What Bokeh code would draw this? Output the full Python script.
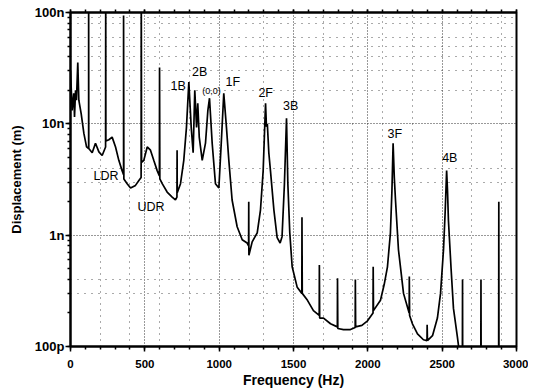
from bokeh.plotting import figure
from bokeh.models import (Range1d, LinearAxis, Grid, FixedTicker,
                          CustomJSTickFormatter, ColumnDataSource)
from bokeh.core.properties import value
from bokeh.embed import file_html
from bokeh.resources import INLINE

# ---------------- data ----------------
# spectrum: frequency (Hz) and displacement (nm); vertical spikes are repeated x values
freq_hz = [0, 11, 22, 27, 34, 40, 49, 56, 72, 90, 108,
           122, 122, 123, 146, 168, 191, 213, 236, 237, 238, 258, 280, 303, 325, 347,
           357, 357, 359, 381, 404, 437, 460, 475, 476, 478, 493, 516, 538, 560, 583,
           598, 599, 601, 617, 650, 684, 706, 716, 717, 718, 740, 762, 780, 796, 812,
           825, 836, 848, 856, 866, 886, 908, 924, 935, 953, 975, 998, 1014, 1031,
           1049, 1065, 1087, 1121, 1155, 1188, 1198, 1199, 1200, 1222, 1256, 1278,
           1296, 1312, 1318, 1324, 1334, 1345, 1368, 1390, 1410, 1423, 1439, 1453,
           1462, 1475, 1491, 1525, 1556, 1557, 1559, 1594, 1634, 1673, 1674, 1676,
           1702, 1749, 1795, 1796, 1798, 1836, 1883, 1915, 1916, 1918, 1960, 1998,
           2035, 2036, 2038, 2085, 2110, 2132, 2152, 2162, 2170, 2178, 2186, 2206,
           2240, 2278, 2279, 2281, 2300, 2334, 2374, 2398, 2399, 2401, 2435, 2468,
           2489, 2509, 2520, 2530, 2536, 2542, 2560, 2576, 2603, 2615, 2636, 2637,
           2638, 2760, 2761, 2762, 2880, 2881, 2882, 3000]
disp_nm = [30, 13.2, 18.8, 11.5, 20, 16.3, 35.6, 16.3, 12.3, 8.2, 6.2,
           6.0, 200, 6.0, 5.5, 6.7, 5.6, 5.2, 6.2, 200, 7.0, 7.2, 7.6, 6.2, 4.7, 3.8,
           3.5, 94, 3.2, 2.9, 2.65, 2.8, 3.1, 3.3, 200, 4.5, 4.7, 6.2, 5.8, 4.7, 3.8,
           3.4, 32, 3.2, 2.9, 2.44, 2.2, 2.07, 2.2, 5.8, 2.4, 2.9, 4.7, 9.3, 23.7, 9.3,
           5.5, 20, 9.3, 15.3, 7.6, 4.7, 6.7, 13.2, 17, 6.7, 2.9, 2.65, 6.7, 18.8,
           9.3, 4.7, 2.07, 1.19, 0.91, 0.85, 0.8, 2.0, 0.66, 0.87, 1.05, 1.69,
           3.8, 15.3, 9.4, 10.0, 5.5, 3.8, 1.69, 0.95, 0.85, 0.97, 2.9, 11.2,
           2.9, 1.05, 0.52, 0.34, 0.30, 1.45, 0.30, 0.26, 0.21, 0.19, 0.54, 0.18,
           0.18, 0.16, 0.15, 0.41, 0.145, 0.142, 0.142, 0.148, 0.40, 0.15, 0.155, 0.17,
           0.2, 0.52, 0.21, 0.26, 0.36, 0.52, 1.05, 2.5, 6.7, 3.3, 2.07, 0.74,
           0.30, 0.2, 0.425, 0.19, 0.16, 0.13, 0.115, 0.113, 0.157, 0.113, 0.125, 0.18,
           0.3, 0.74, 1.6, 3.8, 2.5, 1.37, 0.5, 0.22, 0.12, 0.09, 0.09, 0.40,
           0.09, 0.09, 0.40, 0.09, 0.09, 2.0, 0.09, 0.09]
assert len(freq_hz) == len(disp_nm)

# mode labels
mode_text = ["LDR", "UDR", "1B", "2B", "1F", "2F", "3B", "3F", "4B"]
mode_x = [155, 451, 673, 818, 1043, 1264, 1430, 2132, 2500]
mode_y = [3.4, 1.79, 22, 29, 24, 18.8, 14.4, 8.1, 4.9]
small_text = ["(0,0)"]
small_x = [886]
small_y = [19.6]

x_ticks = [0, 500, 1000, 1500, 2000, 2500, 3000]
x_minor = list(range(0, 3001, 100))
y_tick_labels = {"-1": "100p", "0": "1n", "1": "10n", "2": "100n"}
vgrid_major = [500, 1000, 1500, 2000, 2500]
vgrid_minor = [200, 400, 600, 800, 1300, 1700, 1900, 2100, 2300, 2700, 2900]
hgrid_major = [1, 10]
hgrid_minor = [0.3, 0.4, 3, 4, 20, 30, 40, 50, 60, 80, 90]

FONT = "Liberation Sans"

p = figure(width=528, height=390, output_backend="svg", toolbar_location=None,
           x_range=Range1d(0, 3000), y_range=Range1d(0.1, 100), y_axis_type="log",
           min_border_left=70, min_border_right=12, min_border_top=12, min_border_bottom=43,
           background_fill_color="white", border_fill_color="white")
p.outline_line_color = "black"
p.outline_line_width = 2
p.grid.visible = False

# axes
xa = p.xaxis[0]
xa.ticker = FixedTicker(ticks=x_ticks, minor_ticks=x_minor)
ya = p.yaxis[0]
ya.formatter = CustomJSTickFormatter(args=dict(m=y_tick_labels), code="""
const k = String(Math.round(Math.log10(tick)));
return (k in m) ? m[k] : "";
""")
for ax in (xa, ya):
    ax.axis_line_width = 2
    ax.axis_line_color = "black"
    ax.major_tick_out = 5
    ax.major_tick_in = 0
    ax.minor_tick_out = 3
    ax.minor_tick_in = 0
    ax.major_tick_line_width = 1.5
    ax.minor_tick_line_width = 1.5
    ax.major_label_text_font = FONT
    ax.major_label_text_font_style = "bold"
    ax.major_label_text_color = "black"
    ax.axis_label_text_font = FONT
    ax.axis_label_text_font_style = "bold"
    ax.axis_label_text_color = "black"

xa.axis_label = "Frequency (Hz)"
xa.axis_label_text_font_size = "14px"
xa.major_label_text_font_size = "11.5px"
xa.major_label_standoff = 8
xa.axis_label_standoff = 1

ya.axis_label = "Displacement (m)"
ya.axis_label_text_font_size = "13px"
ya.major_label_text_font_size = "13px"
ya.major_label_standoff = 1
ya.axis_label_standoff = 8

# top axis: ticks only
top = LinearAxis(ticker=FixedTicker(ticks=x_ticks, minor_ticks=x_minor),
                 formatter=CustomJSTickFormatter(code="return '';"),
                 major_label_standoff=0,
                 major_tick_out=3, major_tick_in=0, minor_tick_out=3, minor_tick_in=0,
                 major_tick_line_width=1.5, minor_tick_line_width=1.5, axis_line_width=2)
p.add_layout(top, "above")

# grids
p.add_layout(Grid(dimension=0, ticker=FixedTicker(ticks=vgrid_major), grid_line_color="#333333",
                  grid_line_dash="1 2", grid_line_width=1))
p.add_layout(Grid(dimension=0, ticker=FixedTicker(ticks=vgrid_minor), grid_line_color="#555555",
                  grid_line_dash="1 5", grid_line_width=1))
p.add_layout(Grid(dimension=1, ticker=FixedTicker(ticks=hgrid_major), grid_line_color="#333333",
                  grid_line_dash="1 2", grid_line_width=1))
p.add_layout(Grid(dimension=1, ticker=FixedTicker(ticks=hgrid_minor), grid_line_color="#555555",
                  grid_line_dash="1 6", grid_line_width=1))

# spectrum
src = ColumnDataSource(dict(f=freq_hz, d=disp_nm))
p.line("f", "d", source=src, line_color="black", line_width=1.7)

# labels
p.text(x=mode_x, y=mode_y, text=mode_text, text_font=value(FONT), text_font_size=value("12.5px"),
       text_baseline="middle", text_align="left", text_color="black")
p.text(x=small_x, y=small_y, text=small_text, text_font=value(FONT), text_font_size=value("9px"),
       text_baseline="middle", text_align="left", text_color="black")

open("out.html", "w").write(file_html(p, INLINE))
